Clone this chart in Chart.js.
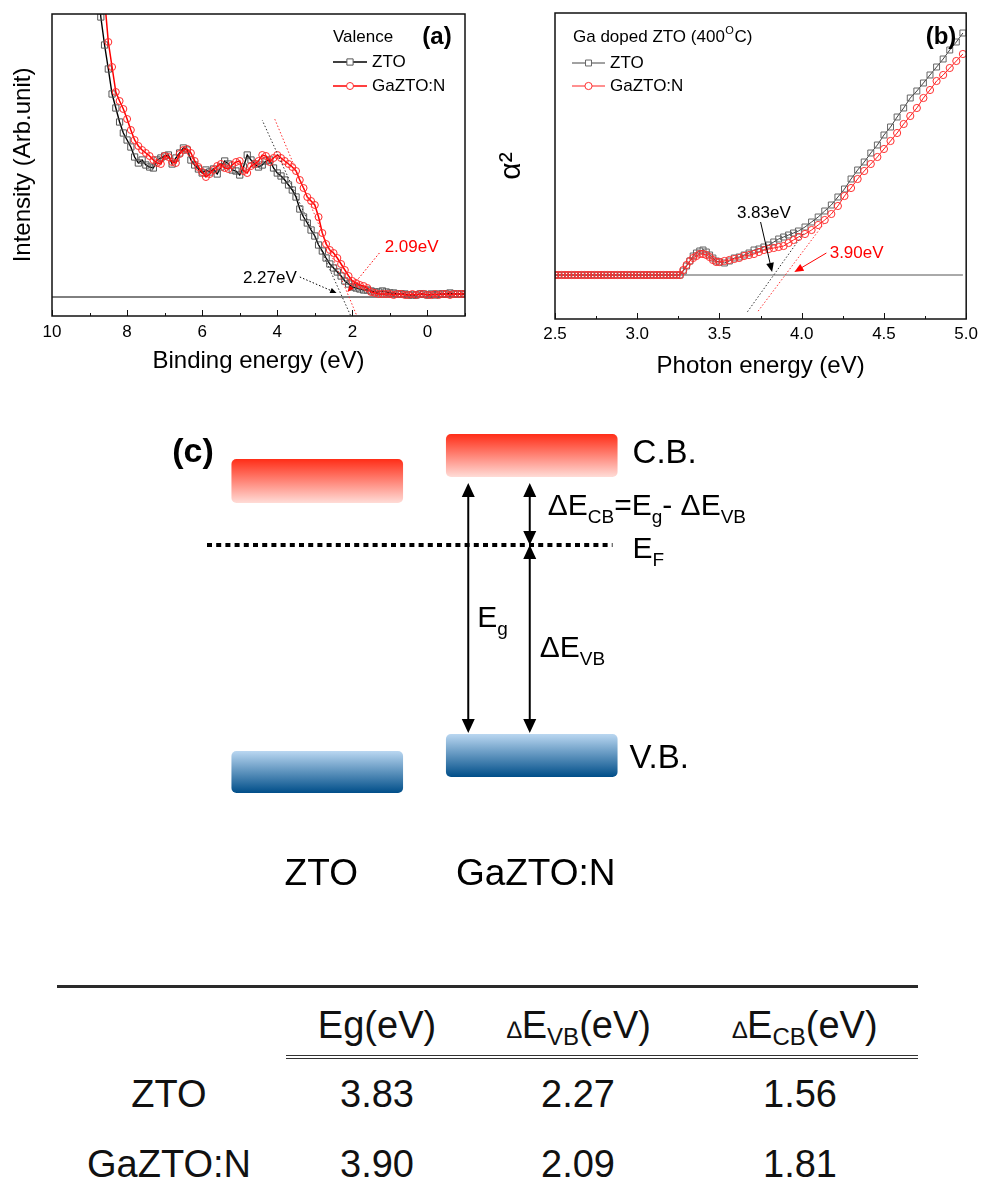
<!DOCTYPE html>
<html>
<head>
<meta charset="utf-8">
<title>ZTO / GaZTO:N band alignment</title>
<script src="https://cdn.jsdelivr.net/npm/chart.js@4.4.1/dist/chart.umd.min.js"></script>
<style>
  html, body { margin: 0; padding: 0; background: #fff; }
  #fig { position: relative; width: 983px; height: 1194px; overflow: hidden; background: #fff;
         font-family: "Liberation Sans", Arial, sans-serif; color: #111; }
  #fig canvas { position: absolute; }
  .cell { position: absolute; width: 240px; text-align: center; font-size: 38px; line-height: 44px; white-space: nowrap; }
  .cell sub { font-size: 24px; vertical-align: -7px; line-height: 0; }
  .cell .dl { font-size: 24px; }
  .rule { position: absolute; }
</style>
</head>
<body>
<div id="fig">
  <canvas id="valence" width="490" height="390" style="left:0;top:0"></canvas>
  <canvas id="absorption" width="493" height="390" style="left:490px;top:0"></canvas>
  <canvas id="bands" width="983" height="520" style="left:0;top:400px"></canvas>
  <div id="table"></div>
</div>
<script>
const FONT = '"Liberation Sans", Arial, sans-serif';
Chart.defaults.font.family = FONT;
Chart.defaults.color = '#000';

// (a) valence band spectra, intensity in arbitrary units
const bindingEnergy = [8.8, 8.7, 8.6, 8.5, 8.4, 8.3, 8.2, 8.1, 8.0, 7.9, 7.8, 7.7, 7.6, 7.5, 7.4, 7.3, 7.2, 7.1, 7.0, 6.9,
  6.8, 6.7, 6.6, 6.5, 6.4, 6.3, 6.2, 6.1, 6.0, 5.9, 5.8, 5.7, 5.6, 5.5, 5.4, 5.3, 5.2, 5.1, 5.0, 4.9,
  4.8, 4.7, 4.6, 4.5, 4.4, 4.3, 4.2, 4.1, 4.0, 3.9, 3.8, 3.7, 3.6, 3.5, 3.4, 3.3, 3.2, 3.1, 3.0, 2.9,
  2.8, 2.7, 2.6, 2.5, 2.4, 2.3, 2.2, 2.1, 2.0, 1.9, 1.8, 1.7, 1.6, 1.5, 1.4, 1.3, 1.2, 1.1, 1.0, 0.9,
  0.8, 0.7, 0.6, 0.5, 0.4, 0.3, 0.2, 0.1, 0.0, -0.1, -0.2, -0.3, -0.4, -0.5, -0.6, -0.7, -0.8, -0.9, -1.0];
const valenceZTO = [320, 280, 252, 228, 203, 189, 175, 164, 157, 150, 140, 134, 137, 132, 130, 129, 137, 139, 141, 142,
  133, 139, 144, 149, 147, 137, 132, 128, 124, 127, 125, 128, 123, 130, 136, 133, 127, 126, 122, 130,
  142, 137, 133, 130, 132, 136, 137, 129, 124, 121, 117, 112, 107, 100, 88, 80, 74, 67, 61, 52,
  46, 39, 33, 29, 25, 21, 16, 13, 10, 9, 8, 7, 7, 6, 5, 5, 6, 5, 4, 4,
  3, 3, 3, 2, 2, 2, 3, 3, 2, 3, 2, 3, 3, 3, 4, 3, 3, 3, 3];
const valenceGaZTON = [390, 345, 298, 255, 230, 205, 196, 188, 178, 167, 157, 151, 147, 144, 141, 137, 134, 133, 141, 140,
  135, 134, 143, 147, 148, 144, 136, 130, 125, 120, 123, 127, 131, 133, 129, 128, 132, 135, 136, 126,
  124, 131, 133, 136, 142, 141, 135, 139, 142, 139, 136, 133, 130, 126, 117, 109, 100, 96, 92, 80,
  64, 53, 47, 44, 39, 33, 27, 21, 16, 14, 12, 11, 9, 5, 4, 3, 3, 3, 3, 2,
  3, 3, 2, 2, 3, 2, 3, 3, 2, 2, 3, 2, 3, 3, 2, 3, 3, 3, 3];

// (b) absorption, alpha^2 in arbitrary units
const photonEnergy = [2.50, 2.52, 2.54, 2.56, 2.58, 2.60, 2.62, 2.64, 2.66, 2.68, 2.70, 2.72, 2.74, 2.76, 2.78, 2.80,
  2.82, 2.84, 2.86, 2.88, 2.90, 2.92, 2.94, 2.96, 2.98, 3.00, 3.02, 3.04, 3.06, 3.08, 3.10, 3.12, 3.14, 3.16,
  3.18, 3.20, 3.22, 3.24, 3.26,
  3.28, 3.30, 3.32, 3.34, 3.36, 3.38, 3.40, 3.42, 3.44, 3.46, 3.48, 3.50,
  3.53, 3.56, 3.59, 3.62, 3.65, 3.68, 3.71, 3.74, 3.77, 3.80, 3.83, 3.86, 3.89, 3.92, 3.95, 3.98,
  4.02, 4.06, 4.10, 4.14, 4.18, 4.22, 4.26, 4.30, 4.34, 4.38, 4.42, 4.46, 4.50, 4.54, 4.58, 4.62, 4.66,
  4.70, 4.74, 4.78, 4.82, 4.86, 4.90, 4.94, 4.98];
const absorbZTO = [0, 0, 0, 0, 0, 0, 0, 0, 0, 0, 0, 0, 0, 0, 0, 0, 0, 0, 0, 0, 0, 0, 0, 0, 0, 0, 0, 0, 0, 0, 0, 0, 0, 0,
  0, 0, 0, 0, 0,
  4, 9, 14, 19, 22, 24, 25, 23, 20, 17, 14, 13,
  12, 14, 17, 18, 20, 22, 25, 26, 28, 30, 33, 36, 38, 40, 42, 44,
  48, 53, 58, 64, 70, 78, 86, 96, 105, 113, 122, 130, 140, 148, 158, 167, 177,
  184, 192, 200, 208, 216, 225, 233, 242];
const absorbGaZTON = [0, 0, 0, 0, 0, 0, 0, 0, 0, 0, 0, 0, 0, 0, 0, 0, 0, 0, 0, 0, 0, 0, 0, 0, 0, 0, 0, 0, 0, 0, 0, 0, 0, 0,
  0, 0, 0, 0, 0,
  5, 10, 14, 17, 19, 21, 21, 20, 18, 15, 13, 13,
  14, 15, 16, 17, 19, 20, 21, 23, 25, 26, 27, 28, 29, 32, 35, 38,
  41, 45, 50, 55, 61, 69, 79, 87, 96, 104, 111, 118, 126, 134, 142, 151, 159,
  167, 177, 185, 194, 200, 207, 214, 221];

// extracted values (eV)
const samples = ['ZTO', 'GaZTO:N'];
const bandGap = [3.83, 3.90];
const vbOffset = [2.27, 2.09];
const cbOffset = [1.56, 1.81];

// linear extrapolations: slope and x-span of each fit line
const vbSlope = [83, 90];
const vbFitSpan = [[2.05, 4.40], [1.79, 4.08]];
const gapSlope = [230, 219];
const gapFitSpan = [[3.67, 4.01], [3.735, 4.14]];

// schematic levels for the band diagram, Fermi level at 0
const conductionBand = [[4.2, 8.6], [6.8, 11.1]];
const valenceBand = [[-24.8, -20.6], [-23.2, -18.9]];
const fermiLevel = 0;

const pts = (xs, ys) => xs.map((x, i) => ({ x, y: ys[i] }));
const fitLine = (span, slope, x0) => span.map(x => ({ x, y: slope * (x - x0) }));

function arrow(ctx, x0, y0, x1, y1, color, dash, head) {
  const a = Math.atan2(y1 - y0, x1 - x0);
  ctx.save();
  ctx.strokeStyle = color;
  ctx.fillStyle = color;
  ctx.lineWidth = 1;
  ctx.setLineDash(dash);
  ctx.beginPath();
  ctx.moveTo(x0, y0);
  ctx.lineTo(x1 - head * 0.8 * Math.cos(a), y1 - head * 0.8 * Math.sin(a));
  ctx.stroke();
  ctx.setLineDash([]);
  ctx.beginPath();
  ctx.moveTo(x1, y1);
  ctx.lineTo(x1 - head * Math.cos(a - 0.4), y1 - head * Math.sin(a - 0.4));
  ctx.lineTo(x1 - head * Math.cos(a + 0.4), y1 - head * Math.sin(a + 0.4));
  ctx.closePath();
  ctx.fill();
  ctx.restore();
}

function marker(ctx, style, x, y, r, color) {
  ctx.beginPath();
  if (style === 'rect') {
    const h = r * Math.SQRT1_2;
    ctx.rect(x - h, y - h, 2 * h, 2 * h);
  } else {
    ctx.arc(x, y, r, 0, Math.PI * 2);
  }
  ctx.fillStyle = '#fff';
  ctx.fill();
  ctx.strokeStyle = color;
  ctx.lineWidth = 1;
  ctx.stroke();
}

// text with subscripts, parts = [[text, isSub], ...]
function rich(ctx, x, base, parts, size) {
  let cx = x;
  parts.forEach(([s, sub]) => {
    ctx.font = (sub ? Math.round(size * 0.63) : size) + 'px ' + FONT;
    ctx.fillText(s, cx, sub ? base + size * 0.28 : base);
    cx += ctx.measureText(s).width;
  });
}

// box around the plot area and inward ticks on the bottom axis
const framePlugin = {
  id: 'frame',
  afterDraw(chart) {
    const { ctx, chartArea: a, scales: { x } } = chart;
    ctx.save();
    ctx.strokeStyle = '#111';
    ctx.lineWidth = 1.5;
    ctx.strokeRect(a.left, a.top, a.right - a.left, a.bottom - a.top);
    ctx.lineWidth = 1;
    x.ticks.forEach(t => {
      const px = Math.round(x.getPixelForValue(t.value)) + 0.5;
      ctx.beginPath();
      ctx.moveTo(px, a.bottom);
      ctx.lineTo(px, a.bottom - (t.label ? 6 : 3));
      ctx.stroke();
    });
    ctx.restore();
  }
};

// annotations given in data coordinates
function makeNotes(id, items) {
  return {
    id,
    afterDatasetsDraw(chart) {
      const { ctx, scales: { x, y } } = chart;
      ctx.save();
      ctx.font = '17px ' + FONT;
      ctx.textBaseline = 'middle';
      items.forEach(n => {
        if (n.text) {
          ctx.fillStyle = n.color;
          ctx.textAlign = n.align;
          ctx.fillText(n.text, x.getPixelForValue(n.at[0]), y.getPixelForValue(n.at[1]));
        } else {
          arrow(ctx, x.getPixelForValue(n.from[0]), y.getPixelForValue(n.from[1]),
            x.getPixelForValue(n.to[0]), y.getPixelForValue(n.to[1]), n.color, n.dash, n.head);
        }
      });
      ctx.restore();
    }
  };
}

// legend block drawn from the first two datasets
function makeKey(id, k) {
  return {
    id,
    afterDraw(chart) {
      const { ctx } = chart;
      ctx.save();
      ctx.textBaseline = 'middle';
      ctx.textAlign = 'left';
      ctx.fillStyle = '#000';
      k.heading(ctx);
      k.rows.forEach((ry, i) => {
        const ds = chart.data.datasets[i];
        ctx.strokeStyle = ds.borderColor;
        ctx.lineWidth = ds.borderWidth;
        ctx.beginPath();
        ctx.moveTo(k.x0, ry);
        ctx.lineTo(k.x1, ry);
        ctx.stroke();
        marker(ctx, ds.pointStyle, (k.x0 + k.x1) / 2, ry, ds.pointRadius, ds.pointBorderColor);
        ctx.fillStyle = '#000';
        ctx.font = '17px ' + FONT;
        ctx.fillText(ds.label, k.tx, ry);
      });
      ctx.font = 'bold 24px ' + FONT;
      ctx.textAlign = 'center';
      ctx.fillText(k.tag[0], k.tag[1], k.tag[2]);
      ctx.restore();
    }
  };
}

function spectrumScales(o) {
  return {
    x: {
      type: 'linear', min: o.min, max: o.max, reverse: o.reverse,
      grid: { display: false, drawTicks: false }, border: { display: false },
      ticks: { stepSize: o.step, autoSkip: false, maxRotation: 0, padding: o.tickPad, font: { size: 17 },
               callback: o.label },
      title: { display: true, text: o.xTitle, font: { size: 24 }, padding: { top: 0, bottom: o.xTitlePad } },
      afterFit: s => { s.height = o.xHeight; }
    },
    y: {
      min: o.yMin, max: o.yMax,
      grid: { display: false, drawTicks: false }, border: { display: false },
      ticks: { display: false },
      title: { display: true, text: o.yTitle, font: { size: o.yTitleSize }, padding: { top: o.yTitlePad, bottom: 0 } },
      afterFit: s => { s.width = o.yWidth; }
    }
  };
}

// (a) valence band spectra
new Chart(document.getElementById('valence'), {
  type: 'line',
  data: {
    datasets: [
      { label: 'ZTO', data: pts(bindingEnergy, valenceZTO), order: 2,
        borderColor: '#000', borderWidth: 1.4, pointStyle: 'rect', pointRadius: 4.4,
        pointBorderColor: '#555', pointBackgroundColor: 'rgba(255,255,255,0)', pointBorderWidth: 1 },
      { label: 'GaZTO:N', data: pts(bindingEnergy, valenceGaZTON), order: 1,
        borderColor: '#ff0000', borderWidth: 1.5, pointStyle: 'circle', pointRadius: 3.5,
        pointBorderColor: '#ff2a2a', pointBackgroundColor: 'rgba(255,255,255,0)', pointBorderWidth: 1 },
      { label: 'base', data: [{ x: 10, y: 0 }, { x: -1, y: 0 }], order: 3,
        borderColor: '#000', borderWidth: 1, pointRadius: 0 },
      { label: 'fit ZTO', data: fitLine(vbFitSpan[0], vbSlope[0], vbOffset[0]), order: 0,
        borderColor: '#333', borderWidth: 1, borderDash: [1.5, 2], pointRadius: 0 },
      { label: 'fit GaZTO:N', data: fitLine(vbFitSpan[1], vbSlope[1], vbOffset[1]), order: 0,
        borderColor: '#ff3030', borderWidth: 1, borderDash: [1.5, 2], pointRadius: 0 }
    ]
  },
  options: {
    responsive: false, animation: false,
    layout: { padding: { left: 0, top: 14, right: 25, bottom: 0 } },
    elements: { line: { tension: 0 } },
    scales: spectrumScales({
      min: -1, max: 10, reverse: true, step: 1, tickPad: 6,
      label: v => (v >= 0 && v % 2 === 0) ? String(v) : '',
      xTitle: 'Binding energy (eV)', xTitlePad: 14, xHeight: 74,
      yMin: -19, yMax: 283, yTitle: 'Intensity (Arb.unit)', yTitleSize: 24, yTitlePad: 9, yWidth: 52
    }),
    plugins: { legend: { display: false }, tooltip: { enabled: false } }
  },
  plugins: [
    framePlugin,
    makeNotes('notesA', [
      { text: vbOffset[0].toFixed(2) + 'eV', at: [3.48, 19], color: '#000', align: 'right' },
      { from: [3.40, 20], to: [vbOffset[0] + 0.15, 4], color: '#000', dash: [1.5, 2], head: 7 },
      { text: vbOffset[1].toFixed(2) + 'eV', at: [1.14, 50], color: '#ff0000', align: 'left' },
      { from: [1.28, 44], to: [vbOffset[1] + 0.04, 5], color: '#ff0000', dash: [1.5, 2], head: 7 }
    ]),
    makeKey('keyA', {
      heading: ctx => { ctx.font = '17px ' + FONT; ctx.fillText('Valence', 333, 37); },
      rows: [62, 86], x0: 333, x1: 367, tx: 372, tag: ['(a)', 437, 37]
    })
  ]
});

// (b) absorption edge
new Chart(document.getElementById('absorption'), {
  type: 'line',
  data: {
    datasets: [
      { label: 'ZTO', data: pts(photonEnergy, absorbZTO), order: 2,
        borderColor: '#444', borderWidth: 1, pointStyle: 'rect', pointRadius: 4.2,
        pointBorderColor: '#666', pointBackgroundColor: 'rgba(255,255,255,0)', pointBorderWidth: 1 },
      { label: 'GaZTO:N', data: pts(photonEnergy, absorbGaZTON), order: 1,
        borderColor: '#ff2020', borderWidth: 1, pointStyle: 'circle', pointRadius: 3.6,
        pointBorderColor: '#ff3030', pointBackgroundColor: 'rgba(255,255,255,0)', pointBorderWidth: 1 },
      { label: 'base', data: [{ x: 2.5, y: 0 }, { x: 4.98, y: 0 }], order: 3,
        borderColor: '#555', borderWidth: 1, pointRadius: 0 },
      { label: 'fit ZTO', data: fitLine(gapFitSpan[0], gapSlope[0], bandGap[0]), order: 0,
        borderColor: '#333', borderWidth: 1, borderDash: [1.5, 2], pointRadius: 0 },
      { label: 'fit GaZTO:N', data: fitLine(gapFitSpan[1], gapSlope[1], bandGap[1]), order: 0,
        borderColor: '#ff3030', borderWidth: 1, borderDash: [1.5, 2], pointRadius: 0 }
    ]
  },
  options: {
    responsive: false, animation: false,
    layout: { padding: { left: 0, top: 13, right: 12, bottom: 0 } },
    elements: { line: { tension: 0 } },
    scales: spectrumScales({
      min: 2.5, max: 5.0, reverse: false, step: 0.25, tickPad: 5,
      label: v => Math.abs(v * 2 - Math.round(v * 2)) < 1e-9 ? v.toFixed(1) : '',
      xTitle: 'Photon energy (eV)', xTitlePad: 9, xHeight: 71,
      yMin: -44, yMax: 262, yTitle: 'α²', yTitleSize: 30, yTitlePad: 4, yWidth: 65
    }),
    plugins: { legend: { display: false }, tooltip: { enabled: false } }
  },
  plugins: [
    framePlugin,
    makeNotes('notesB', [
      { text: bandGap[0].toFixed(2) + 'eV', at: [3.77, 62], color: '#000', align: 'center' },
      { from: [3.75, 53], to: [bandGap[0] - 0.01, 3], color: '#000', dash: [], head: 10 },
      { text: bandGap[1].toFixed(2) + 'eV', at: [4.17, 22], color: '#ff0000', align: 'left' },
      { from: [4.15, 22], to: [bandGap[1] + 0.055, 3], color: '#ff0000', dash: [], head: 10 }
    ]),
    makeKey('keyB', {
      heading: ctx => {
        ctx.font = '17px ' + FONT;
        const s = 'Ga doped ZTO (400';
        ctx.fillText(s, 83, 37);
        let x = 83 + ctx.measureText(s).width;
        ctx.font = '11px ' + FONT;
        ctx.fillText('O', x + 0.5, 31);
        x += ctx.measureText('O').width + 1;
        ctx.font = '17px ' + FONT;
        ctx.fillText('C)', x, 37);
      },
      rows: [63, 86], x0: 82, x1: 115, tx: 120, tag: ['(b)', 451, 37]
    })
  ]
});

// (c) band diagram
function bandFill(top, bottom) {
  return c => {
    const chart = c.chart;
    if (!chart.chartArea || !c.raw) return bottom;
    const y = chart.scales.y;
    const g = chart.ctx.createLinearGradient(0, y.getPixelForValue(c.raw[1]), 0, y.getPixelForValue(c.raw[0]));
    g.addColorStop(0, top);
    g.addColorStop(1, bottom);
    return g;
  };
}

function twoWay(ctx, x, y0, y1) {
  const h = 14, w = 6.5;
  ctx.beginPath();
  ctx.moveTo(x, y0 + h - 1);
  ctx.lineTo(x, y1 - h + 1);
  ctx.stroke();
  ctx.beginPath();
  ctx.moveTo(x, y0); ctx.lineTo(x - w, y0 + h); ctx.lineTo(x + w, y0 + h); ctx.closePath();
  ctx.moveTo(x, y1); ctx.lineTo(x - w, y1 - h); ctx.lineTo(x + w, y1 - h); ctx.closePath();
  ctx.fill();
}

const bandNotes = {
  id: 'bandNotes',
  afterDatasetsDraw(chart) {
    const { ctx, chartArea: a, scales: { y } } = chart;
    const bar = chart.getDatasetMeta(0).data[1];
    const left = bar.x - bar.width / 2;
    const right = bar.x + bar.width / 2;
    const cbLow = y.getPixelForValue(conductionBand[1][0]);
    const cbHigh = y.getPixelForValue(conductionBand[1][1]);
    const vbLow = y.getPixelForValue(valenceBand[1][0]);
    const vbHigh = y.getPixelForValue(valenceBand[1][1]);
    const ef = y.getPixelForValue(fermiLevel);
    const egX = left + bar.width * 0.13;
    const dX = bar.x - 2;
    const top = cbLow + 6;
    const bot = vbHigh - 1;

    ctx.save();
    ctx.strokeStyle = '#000';
    ctx.fillStyle = '#000';
    ctx.lineWidth = 4;
    ctx.setLineDash([5, 4.2]);
    ctx.beginPath();
    ctx.moveTo(a.left - 3, ef);
    ctx.lineTo(right - 5, ef);
    ctx.stroke();
    ctx.setLineDash([]);

    ctx.lineWidth = 2;
    twoWay(ctx, egX, top, bot);
    twoWay(ctx, dX, top, ef);
    twoWay(ctx, dX, ef, bot);

    ctx.textBaseline = 'middle';
    ctx.textAlign = 'center';
    ctx.font = 'bold 34px ' + FONT;
    ctx.fillText('(c)', 193, 53);

    ctx.textAlign = 'left';
    ctx.textBaseline = 'alphabetic';
    ctx.font = '33px ' + FONT;
    ctx.fillText('C.B.', right + 15, (cbLow + cbHigh) / 2 + 7);
    ctx.fillText('V.B.', right + 12, (vbLow + vbHigh) / 2 + 12);
    rich(ctx, right + 15, ef + 13, [['E'], ['F', 1]], 30);
    rich(ctx, dX + 18, (top + ef) / 2 + 1, [['ΔE'], ['CB', 1], ['=E'], ['g', 1], ['- ΔE'], ['VB', 1]], 30);
    rich(ctx, egX + 9, (top + bot) / 2 + 19, [['E'], ['g', 1]], 30);
    rich(ctx, dX + 10, (ef + bot) / 2 + 18, [['ΔE'], ['VB', 1]], 30);
    ctx.restore();
  }
};

new Chart(document.getElementById('bands'), {
  type: 'bar',
  data: {
    labels: samples,
    datasets: [
      { label: 'C.B.', data: conductionBand, backgroundColor: bandFill('#ff2d17', '#ffdcd7'),
        grouped: false, barPercentage: 0.8, categoryPercentage: 1, borderRadius: 5, borderSkipped: false },
      { label: 'V.B.', data: valenceBand, backgroundColor: bandFill('#bad7f1', '#004e89'),
        grouped: false, barPercentage: 0.8, categoryPercentage: 1, borderRadius: 5, borderSkipped: false }
    ]
  },
  options: {
    responsive: false, animation: false,
    layout: { padding: { left: 210, right: 344, top: 20, bottom: 0 } },
    scales: {
      x: {
        grid: { display: false, drawTicks: false }, border: { display: false },
        ticks: { autoSkip: false, maxRotation: 0, padding: 53, labelOffset: 4, font: { size: 37 }, color: '#000' },
        afterFit: s => { s.height = 120; }
      },
      y: { display: false, min: -25.5, max: 12.5 }
    },
    plugins: { legend: { display: false }, tooltip: { enabled: false } }
  },
  plugins: [bandNotes]
});

// summary table
const table = document.getElementById('table');
const colX = [377, 578, 800];
const headX = [377, 579, 805];
const rowY = [1094, 1164];
const headers = ['Eg(eV)', '<span class="dl">∆</span>E<sub>VB</sub>(eV)', '<span class="dl">∆</span>E<sub>CB</sub>(eV)'];

function cell(html, cx, cy) {
  const d = document.createElement('div');
  d.className = 'cell';
  d.style.left = (cx - 120) + 'px';
  d.style.top = (cy - 22) + 'px';
  d.innerHTML = html;
  table.appendChild(d);
}
function rule(left, top, width, css) {
  const d = document.createElement('div');
  d.className = 'rule';
  d.style.cssText = `left:${left}px;top:${top}px;width:${width}px;${css}`;
  table.appendChild(d);
}

rule(57, 985, 861, 'height:0;border-top:3px solid #2a2a2a');
rule(286, 1055, 632, 'height:2px;border-top:1.5px solid #333;border-bottom:1.5px solid #333');
headers.forEach((h, i) => cell(h, headX[i], 1025));
samples.forEach((s, r) => {
  cell(s, 169, rowY[r]);
  [bandGap, vbOffset, cbOffset].forEach((col, c) => cell(col[r].toFixed(2), colX[c], rowY[r]));
});
</script>
</body>
</html>
